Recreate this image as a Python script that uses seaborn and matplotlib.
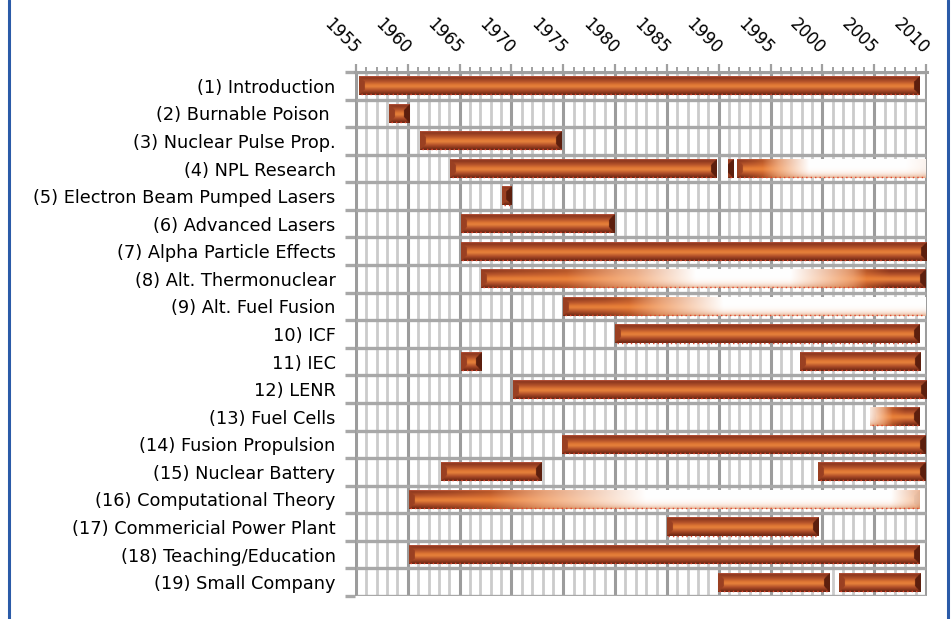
import matplotlib

matplotlib.use("Agg")
import matplotlib.pyplot as plt
import numpy as np
import pandas as pd
import seaborn as sns
from matplotlib.colors import LinearSegmentedColormap, to_rgb
from matplotlib.lines import Line2D

TASKS = [
    "(1) Introduction",
    "(2) Burnable Poison ",
    "(3) Nuclear Pulse Prop.",
    "(4) NPL Research",
    "(5) Electron Beam Pumped Lasers",
    "(6) Advanced Lasers",
    "(7) Alpha Particle Effects",
    "(8) Alt. Thermonuclear",
    "(9) Alt. Fuel Fusion",
    "10) ICF",
    "11) IEC",
    "12) LENR",
    "(13) Fuel Cells",
    "(14) Fusion Propulsion",
    "(15) Nuclear Battery",
    "(16) Computational Theory",
    "(17) Commericial Power Plant",
    "(18) Teaching/Education",
    "(19) Small Company",
]

# one entry per bar segment (row index into TASKS, start year, end year)
SEG_ROW = [0, 1, 2, 3, 3, 3, 4, 5, 6, 7, 8, 9, 10, 10, 11, 12, 13, 14, 14, 15, 16, 17, 18, 18]
SEG_START = [1955.3, 1958.2, 1961.2, 1964.1, 1990.9, 1991.8, 1969.1, 1965.1, 1965.1, 1967.1,
             1975.0, 1980.0, 1965.1, 1997.8, 1970.1, 2004.6, 1974.9, 1963.2, 1999.6, 1960.1,
             1985.0, 1960.1, 1989.9, 2001.6]
SEG_END = [2009.4, 1960.2, 1974.9, 1989.8, 1991.4, 2010.0, 1970.0, 1979.9, 2010.0, 2010.0,
           2010.0, 2009.4, 1967.1, 2009.4, 2010.0, 2009.4, 2010.0, 1972.9, 2010.0, 2009.4,
           1999.6, 2009.4, 2000.7, 2009.5]

YEAR_MIN, YEAR_MAX = 1955, 2010
YEAR_LABELS = [str(y) for y in range(1955, 2011, 5)]

# how far each listed segment washes out to white along its length (style only)
FADES = {
    5: [(1991.8, 0.0), (1993.5, 0.15), (1996.5, 0.55), (1999.5, 0.95), (2006, 0.9), (2010, 0.8)],
    9: [(1967.1, 0.0), (1974, 0.2), (1982, 0.5), (1989, 0.92), (1996, 0.92), (2003, 0.4),
        (2006.5, 0.0), (2010, 0.0)],
    10: [(1975, 0.0), (1979, 0.1), (1986, 0.55), (1992, 0.95), (2010, 0.88)],
    15: [(2004.6, 0.75), (2006.3, 0.35), (2008, 0.0), (2009.4, 0.0)],
    19: [(1960.1, 0.0), (1964, 0.1), (1973, 0.45), (1983, 0.85), (1989, 0.97), (2006, 0.92),
         (2009.4, 0.55)],
}

BAR_H = 0.68
PX_YEAR = 10.4
BAR_PX = 18.5

VCMAP = LinearSegmentedColormap.from_list(
    "copper_bar",
    [(0.0, "#b8533c"), (0.07, "#8a361d"), (0.28, "#b4522a"), (0.47, "#e27a35"),
     (0.56, "#e5803b"), (0.76, "#ad4c28"), (0.93, "#7b2f18"), (1.0, "#6a2713")],
)


def bar_image(start, end, fade):
    ncols = max(int((end - start) * 14), 12)
    nrows = 40
    v = np.linspace(0, 1, nrows)
    xs = np.linspace(start, end, ncols)
    img = np.repeat(VCMAP(v)[:, None, :3], ncols, axis=1)

    # bevelled ends
    dv = np.minimum(v, 1 - v)[:, None] * BAR_PX
    dl = ((xs - start) * PX_YEAR)[None, :]
    dr = ((end - xs) * PX_YEAR)[None, :]
    left_bevel = (dl < dv) & (dl < 5.5)
    right_bevel = (dr < dv) & (dr < 5.5)
    img[left_bevel] = to_rgb("#9a4022")
    img[right_bevel] = to_rgb("#5c1f0e")

    if fade is not None:
        px, pa = zip(*fade)
        a = np.interp(xs, px, pa)[None, :, None]
        orange = np.array(to_rgb("#f0843a"))
        k = np.clip(a * 2.2, 0, 1) * 0.75
        img = img * (1 - k) + orange * k
        w = np.clip((a - 0.25) / 0.6, 0, 1) * (1 - 0.55 * v[:, None, None] ** 5)
        img = img * (1 - w) + w
    return np.clip(img, 0, 1)


def main():
    sns.set_theme(style="white")
    plt.rcParams["font.family"] = ["DejaVu Sans"]

    df = pd.DataFrame({"row": SEG_ROW, "start": SEG_START, "end": SEG_END})

    fig = plt.figure(figsize=(9.53, 6.19), dpi=100)
    ax = fig.add_axes([355 / 953, 23 / 619, 572 / 953, 524 / 619])

    n = len(TASKS)
    years = np.arange(YEAR_MIN, YEAR_MAX + 1)
    minor = years[years % 5 != 0]
    major = years[years % 5 == 0]
    ax.vlines(minor, -0.5, n - 0.5, color="#cbcbcb", lw=2.0, zorder=1)
    ax.vlines(major, -0.5, n - 0.5, color="#9c9c9c", lw=2.2, zorder=1)
    ax.hlines(np.arange(n + 1) - 0.5, YEAR_MIN, YEAR_MAX, color="#a8a8a8", lw=2.4, zorder=2)

    for i, seg in df.iterrows():
        y, s, e = seg["row"], seg["start"], seg["end"]
        bars = ax.barh(y, e - s, left=s, height=BAR_H, color="#8a361d", lw=0, zorder=3)
        patch = bars.patches[0]
        img = bar_image(s, e, FADES.get(i))
        ax.imshow(img, extent=[s, e, y + BAR_H / 2, y - BAR_H / 2], aspect="auto",
                  interpolation="bilinear", zorder=4, clip_path=patch)
        ax.plot([s + 0.15, e - 0.15], [y + BAR_H / 2 - 0.03] * 2, color="#e0452c", lw=1.0,
                ls=(0, (1, 2.2)), zorder=5, solid_capstyle="butt")

    ax.set_xlim(YEAR_MIN - 0.1, YEAR_MAX + 0.1)
    ax.set_ylim(n - 0.5, -0.5)

    ax.xaxis.tick_top()
    ax.set_xticks(major)
    ax.set_xticklabels(YEAR_LABELS, rotation=-45, ha="right", va="center",
                       rotation_mode="anchor", fontsize=12, color="black")
    ax.set_xticks(minor, minor=True)
    ax.tick_params(axis="x", which="major", top=True, length=6, width=1.6, color="#a0a0a0",
                   pad=9)
    ax.tick_params(axis="x", which="minor", top=True, length=3.5, width=1.4, color="#a0a0a0")

    ax.set_yticks(np.arange(n))
    ax.set_yticklabels(TASKS, fontsize=12.8, color="black")
    ax.set_yticks(np.arange(n + 1) - 0.5, minor=True)
    ax.tick_params(axis="y", which="major", left=False, length=0, pad=14)
    ax.tick_params(axis="y", which="minor", left=True, length=7, width=2.4, color="#a8a8a8")

    for side in ["left", "right", "bottom"]:
        ax.spines[side].set_visible(False)
    ax.spines["top"].set_color("#a0a0a0")
    ax.spines["top"].set_linewidth(2.2)

    for xf in (9 / 953, 948 / 953):
        fig.add_artist(Line2D([xf, xf], [0, 1], transform=fig.transFigure,
                              color="#2b5ba8", lw=2.2))

    fig.savefig("out.png", dpi=100, facecolor="white")
    plt.close(fig)


if __name__ == "__main__":
    main()
